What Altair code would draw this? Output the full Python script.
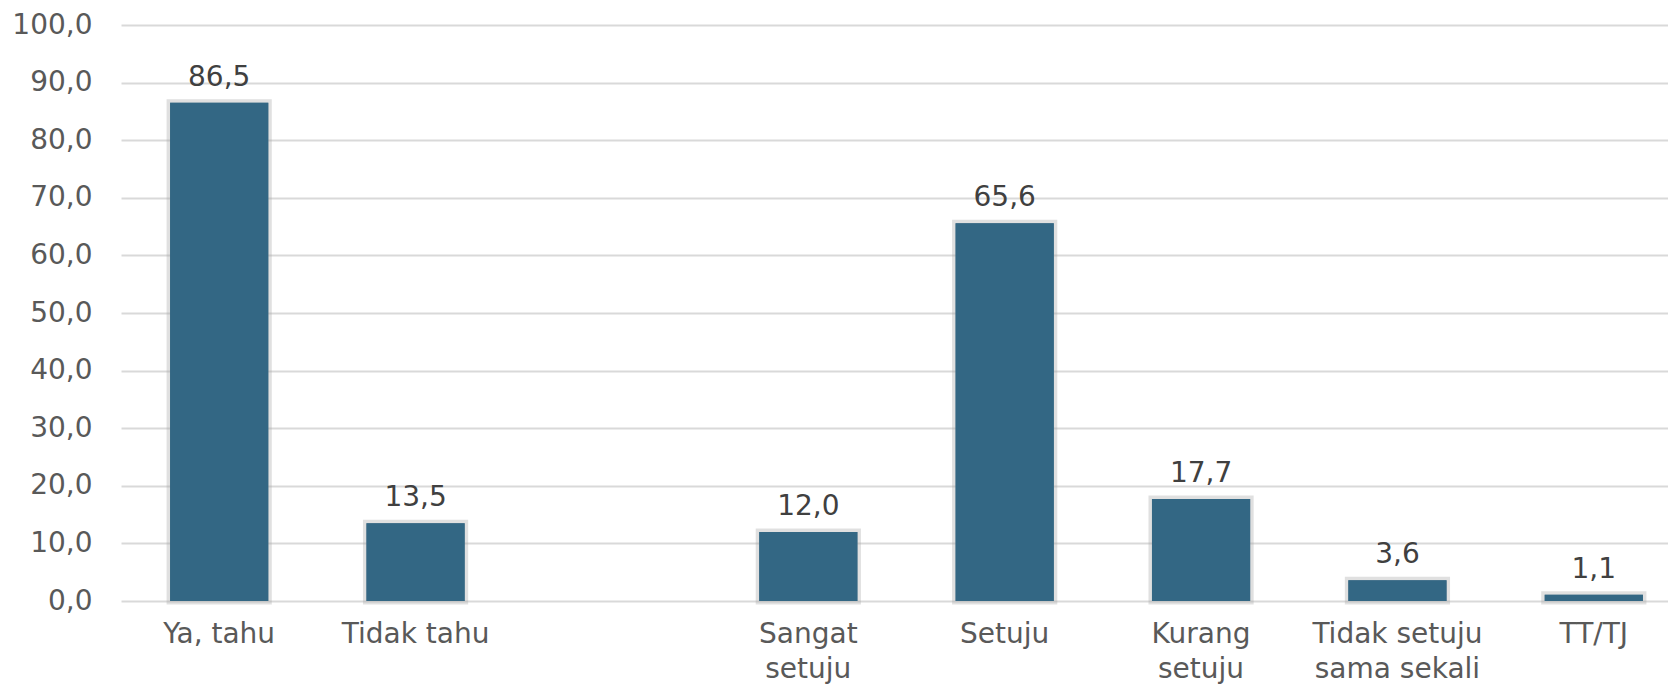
import altair as alt
import pandas as pd

categories = ["Ya, tahu", "Tidak tahu", " ", "Sangat setuju", "Setuju",
              "Kurang setuju", "Tidak setuju sama sekali", "TT/TJ"]
label_lines = {
    "Sangat setuju": ["Sangat", "setuju"],
    "Kurang setuju": ["Kurang", "setuju"],
    "Tidak setuju sama sekali": ["Tidak setuju", "sama sekali"],
}
bar_cats = ["Ya, tahu", "Tidak tahu", "Sangat setuju", "Setuju",
            "Kurang setuju", "Tidak setuju sama sekali", "TT/TJ"]
values = [86.5, 13.5, 12.0, 65.6, 17.7, 3.6, 1.1]
y_ticks = [0, 10, 20, 30, 40, 50, 60, 70, 80, 90, 100]

df = pd.DataFrame({"cat": bar_cats, "val": values})
df["lab"] = df["val"].map(lambda v: f"{v:.1f}".replace(".", ","))

FONT = "DejaVu Sans"
TXT = "#595959"

expr_parts = []
for k, v in label_lines.items():
    arr = "[" + ",".join(f"'{s}'" for s in v) + "]"
    expr_parts.append(f"datum.label == '{k}' ? {arr}")
label_expr = " : ".join(expr_parts) + " : datum.label"

x = alt.X("cat:N", sort=categories,
          scale=alt.Scale(domain=categories, paddingInner=0.5, paddingOuter=0.25,
                          range=[0, 1571]),
          axis=alt.Axis(title=None, labelAngle=0, ticks=False, domain=False,
                        labelFont=FONT, labelFontSize=28, labelColor=TXT,
                        labelPadding=19, labelLineHeight=35, labelExpr=label_expr,
                        labelBaseline="top"))
y = alt.Y("val:Q", scale=alt.Scale(domain=[0, 100], nice=False),
          axis=alt.Axis(title=None, values=y_ticks,
                        labelExpr="replace(format(datum.value, '.1f'), '.', ',')",
                        ticks=False, domain=False, labelFont=FONT, labelFontSize=28,
                        labelColor=TXT, labelPadding=29, gridColor="#d9d9d9",
                        gridWidth=2))

shadow = alt.Chart(df).mark_bar(color="#336784", stroke="#a6a6a6", strokeWidth=7,
                                strokeOpacity=0.35).encode(x=x, y=y)
bars = alt.Chart(df).mark_bar(color="#336784").encode(x=x, y=y)
text = alt.Chart(df).mark_text(font=FONT, fontSize=28, color="#404040", dy=-11,
                               baseline="bottom").encode(x=x, y=y, text="lab:N")

chart = (shadow + bars + text).properties(
    width=1547, height=576,
    autosize=alt.AutoSizeParams(type="none"),
    padding={"left": 113, "top": 17, "right": 0, "bottom": 87},
).configure_view(stroke=None)

chart.save("out.html", embed_options={"renderer": "svg", "actions": False})
